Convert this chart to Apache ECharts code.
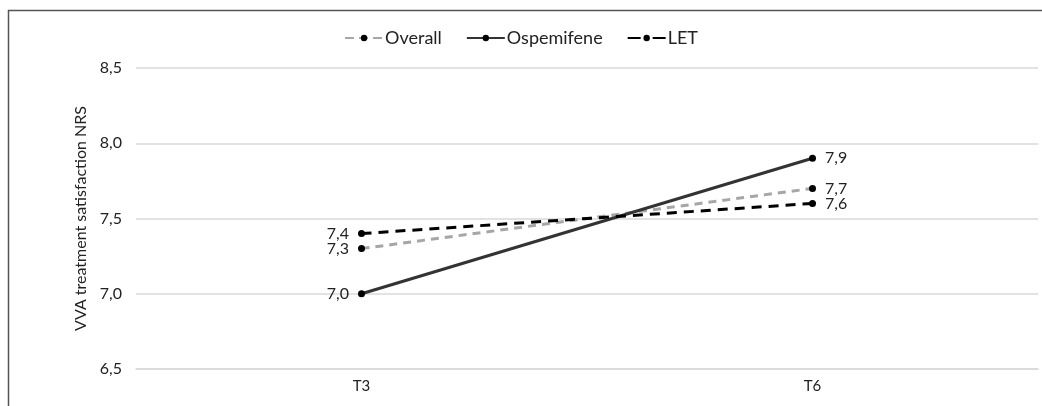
<!DOCTYPE html>
<html>
<head>
<meta charset="utf-8">
<script src="https://cdn.jsdelivr.net/npm/echarts@6/dist/echarts.min.js"></script>
<style>
  html, body { margin: 0; padding: 0; background: #fff; }
  #main { width: 1042px; height: 406px; }
</style>
</head>
<body>
<div id="main"></div>
<script>
  // data
  var timepoints = ['T3', 'T6'];
  var overall = [7.3, 7.7];
  var ospemifene = [7.0, 7.9];
  var letValues = [7.4, 7.6];
  var yTicks = [6.5, 7.0, 7.5, 8.0, 8.5];

  var font = 'Lato, "Open Sans", sans-serif';

  function withLabels(arr) {
    return arr.map(function (v, i) {
      return { value: v, label: { position: i === 0 ? 'left' : 'right' } };
    });
  }
  function fmt(v) {
    return v.toFixed(1).replace('.', ',');
  }
  function lineSeries(name, arr, color, type, width) {
    return {
      name: name,
      type: 'line',
      data: withLabels(arr),
      symbol: 'circle',
      symbolSize: 7,
      itemStyle: { color: '#000' },
      lineStyle: { color: color, type: type, width: width },
      label: {
        show: true,
        distance: 9,
        color: '#222',
        fontSize: 16,
        fontFamily: font,
        formatter: function (p) { return fmt(p.value); }
      },
      emphasis: { disabled: true }
    };
  }

  var myChart = echarts.init(document.getElementById('main'));
  myChart.setOption({
    animation: false,
    color: ['#a6a6a6', '#333333', '#000000'],
    graphic: [{
      type: 'rect',
      shape: { x: 8.5, y: 10.5, width: 1100, height: 500 },
      style: { fill: 'none', stroke: '#555', lineWidth: 1.5 },
      silent: true
    }],
    legend: {
      top: 24,
      left: 'center',
      itemWidth: 38,
      itemHeight: 8,
      itemGap: 24,
      textStyle: { fontSize: 18, fontFamily: font, color: '#222', padding: [0, 0, 0, -3] },
      data: [
        { name: 'Overall', lineStyle: { type: [9, 5] } },
        { name: 'Ospemifene' },
        { name: 'LET', lineStyle: { type: [13, 12] } }
      ]
    },
    grid: { left: 136, right: 4, top: 68, bottom: 37 },
    xAxis: {
      type: 'category',
      data: timepoints,
      boundaryGap: true,
      axisLine: { lineStyle: { color: '#d9d9d9', width: 1.5 } },
      axisTick: { show: false },
      axisLabel: { color: '#222', fontSize: 15, fontFamily: font, margin: 10 }
    },
    yAxis: {
      type: 'value',
      min: yTicks[0],
      max: yTicks[yTicks.length - 1],
      interval: 0.5,
      name: 'VVA treatment satisfaction NRS',
      nameLocation: 'middle',
      nameGap: 42,
      nameTextStyle: { fontSize: 16, fontFamily: font, color: '#222' },
      axisLabel: {
        color: '#222', fontSize: 16, fontFamily: font, margin: 14,
        formatter: function (v) { return fmt(v); }
      },
      splitLine: { lineStyle: { color: '#d9d9d9', width: 1.5 } }
    },
    series: [
      lineSeries('Overall', overall, '#a6a6a6', [8, 6], 3),
      lineSeries('Ospemifene', ospemifene, '#333333', 'solid', 3),
      lineSeries('LET', letValues, '#000000', [10, 7], 3)
    ]
  });
</script>
</body>
</html>
